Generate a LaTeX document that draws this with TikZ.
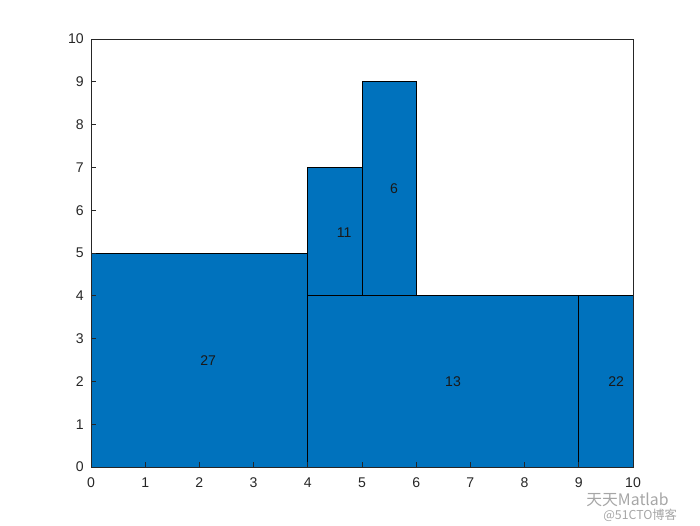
\documentclass[tikz,border=0pt]{standalone}
\usepackage{fontspec}
\setmainfont{Liberation Sans}
\newfontfamily\cjk{Noto Sans CJK SC}
\usetikzlibrary{positioning}
\definecolor{mblue}{RGB}{0,114,189}
\definecolor{axgray}{RGB}{38,38,38}

\begin{document}
\begin{tikzpicture}[
  blk/.style={fill=mblue, draw=black, line width=0.4pt},
  lbl/.style={inner sep=0pt, font=\fontsize{8}{10}\selectfont, text=black!90},
  tick/.style={inner sep=0pt, font=\fontsize{8}{10}\selectfont, text=axgray},
  wmark/.style={inner sep=0pt, text=black!35}]
  \useasboundingbox (0,0) rectangle (14,10.5);
  % data area
  \begin{scope}[shift={(1.82,1.16)}, x=1.084cm, y=0.856cm]
    \draw[blk] (0,0) rectangle (4,5);
    \draw[blk] (4,0) rectangle (9,4);
    \draw[blk] (9,0) rectangle (10,4);
    \draw[blk] (4,4) rectangle (5,7);
    \draw[blk] (5,4) rectangle (6,9);
    \node[lbl] (n27) at (2.16,2.48) {27};
    \node[lbl] (n13) at (6.68,1.99) {13};
    \node[lbl] (n22) at (9.69,1.99) {22};
    \node[lbl] (n11) at (4.67,5.47) {11};
    \node[lbl] (n6) at (5.59,6.5) {6};
    % axes
    \draw[axgray, line width=0.4pt] (0,0) rectangle (10,10);
    \foreach \k in {0,...,10} {
      \draw[axgray, line width=0.4pt] (\k,0) -- ++(0,0.1cm);
      \draw[axgray, line width=0.4pt] (0,\k) -- ++(0.1cm,0);
      \node[tick, anchor=north] (xt\k) at ([yshift=-0.2cm]\k,0) {\k};
      \node[tick, anchor=east] (yt\k) at ([xshift=-0.14cm]0,\k) {\k};
    }
  \end{scope}
  % watermark
  \node[wmark, anchor=west, font=\fontsize{9}{10}\selectfont\cjk] (wm1) at (11.72,0.5) {天天Matlab};
  \node[wmark, anchor=west, font=\fontsize{7}{8}\selectfont\cjk] (wm2) at (12.06,0.2) {@51CTO博客};
\end{tikzpicture}
\end{document}
